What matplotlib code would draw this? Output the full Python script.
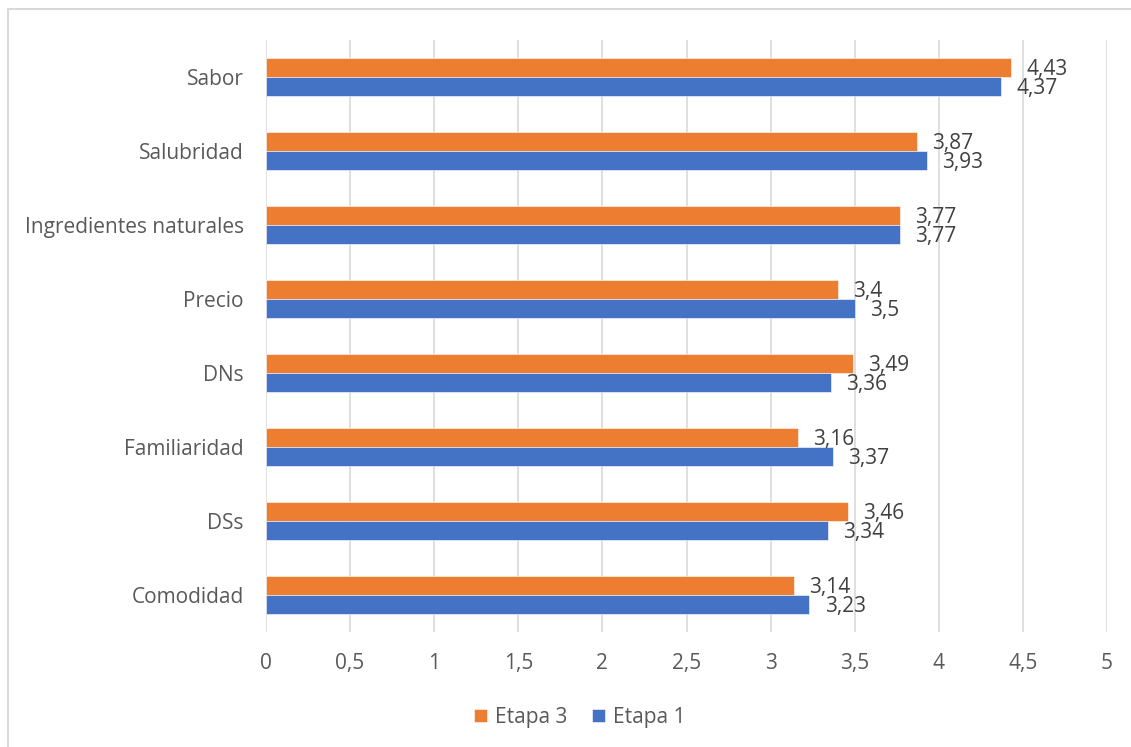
import numpy as np
import matplotlib.pyplot as plt
from matplotlib.patches import Rectangle

plt.rcParams['font.family'] = ['Open Sans', 'DejaVu Sans']

# Survey attributes, bottom to top
categories = ["Comodidad", "DSs", "Familiaridad", "DNs", "Precio",
              "Ingredientes naturales", "Salubridad", "Sabor"]
etapa3 = [3.14, 3.46, 3.16, 3.49, 3.4, 3.77, 3.87, 4.43]
etapa1 = [3.23, 3.34, 3.37, 3.36, 3.5, 3.77, 3.93, 4.37]
xticks = [0, 0.5, 1, 1.5, 2, 2.5, 3, 3.5, 4, 4.5, 5]

orange = "#ED7D31"
blue = "#4472C4"
text_col = "#595959"
label_col = "#404040"
fs = 15

W, H = 1131, 747
fig = plt.figure(figsize=(W / 100, H / 100), dpi=100)
ax = fig.add_axes([266 / W, 1 - 632 / H, (1107 - 266) / W, (632 - 40) / H])

y = np.arange(len(categories))
h = 0.256

b3 = ax.barh(y + h / 2, etapa3, height=h, color=orange, edgecolor="white",
             linewidth=0.4, label="Etapa 3", zorder=3)
b1 = ax.barh(y - h / 2, etapa1, height=h, color=blue, edgecolor="white",
             linewidth=0.4, label="Etapa 1", zorder=3)

fmt = lambda v: f"{v:g}".replace(".", ",")
for bars, vals in ((b3, etapa3), (b1, etapa1)):
    for bar, v in zip(bars, vals):
        ax.annotate(fmt(v), (v, bar.get_y() + bar.get_height() / 2),
                    xytext=(11, -1.5), textcoords="offset points",
                    ha="left", va="center", fontsize=fs, color=label_col,
                    zorder=4)

ax.set_xlim(0, 5)
ax.set_ylim(-0.5, 7.5)
ax.set_xticks(xticks)
ax.set_xticklabels([fmt(t) for t in xticks])
ax.set_yticks(y)
ax.set_yticklabels(categories)
ax.tick_params(axis="both", length=0, labelsize=fs, labelcolor=text_col)
ax.tick_params(axis="x", pad=15)
ax.tick_params(axis="y", pad=16)

ax.grid(axis="x", color="#D9D9D9", linewidth=1.2, zorder=0)
for s in ax.spines.values():
    s.set_visible(False)

fig.legend(handles=[b3, b1], labels=["Etapa 3", "Etapa 1"],
           loc="center", bbox_to_anchor=(580 / W, 1 - 717 / H), ncol=2,
           frameon=False, fontsize=fs, handlelength=0.6, handleheight=0.6,
           handletextpad=0.4, columnspacing=1.2, labelcolor=text_col)

# chart area border
fig.patches.append(Rectangle((8 / W, -0.1), 2, 1 - 9 / H + 0.1,
                             transform=fig.transFigure, fill=False,
                             edgecolor="#D9D9D9", linewidth=1.5))

fig.savefig("out.png", dpi=100)
